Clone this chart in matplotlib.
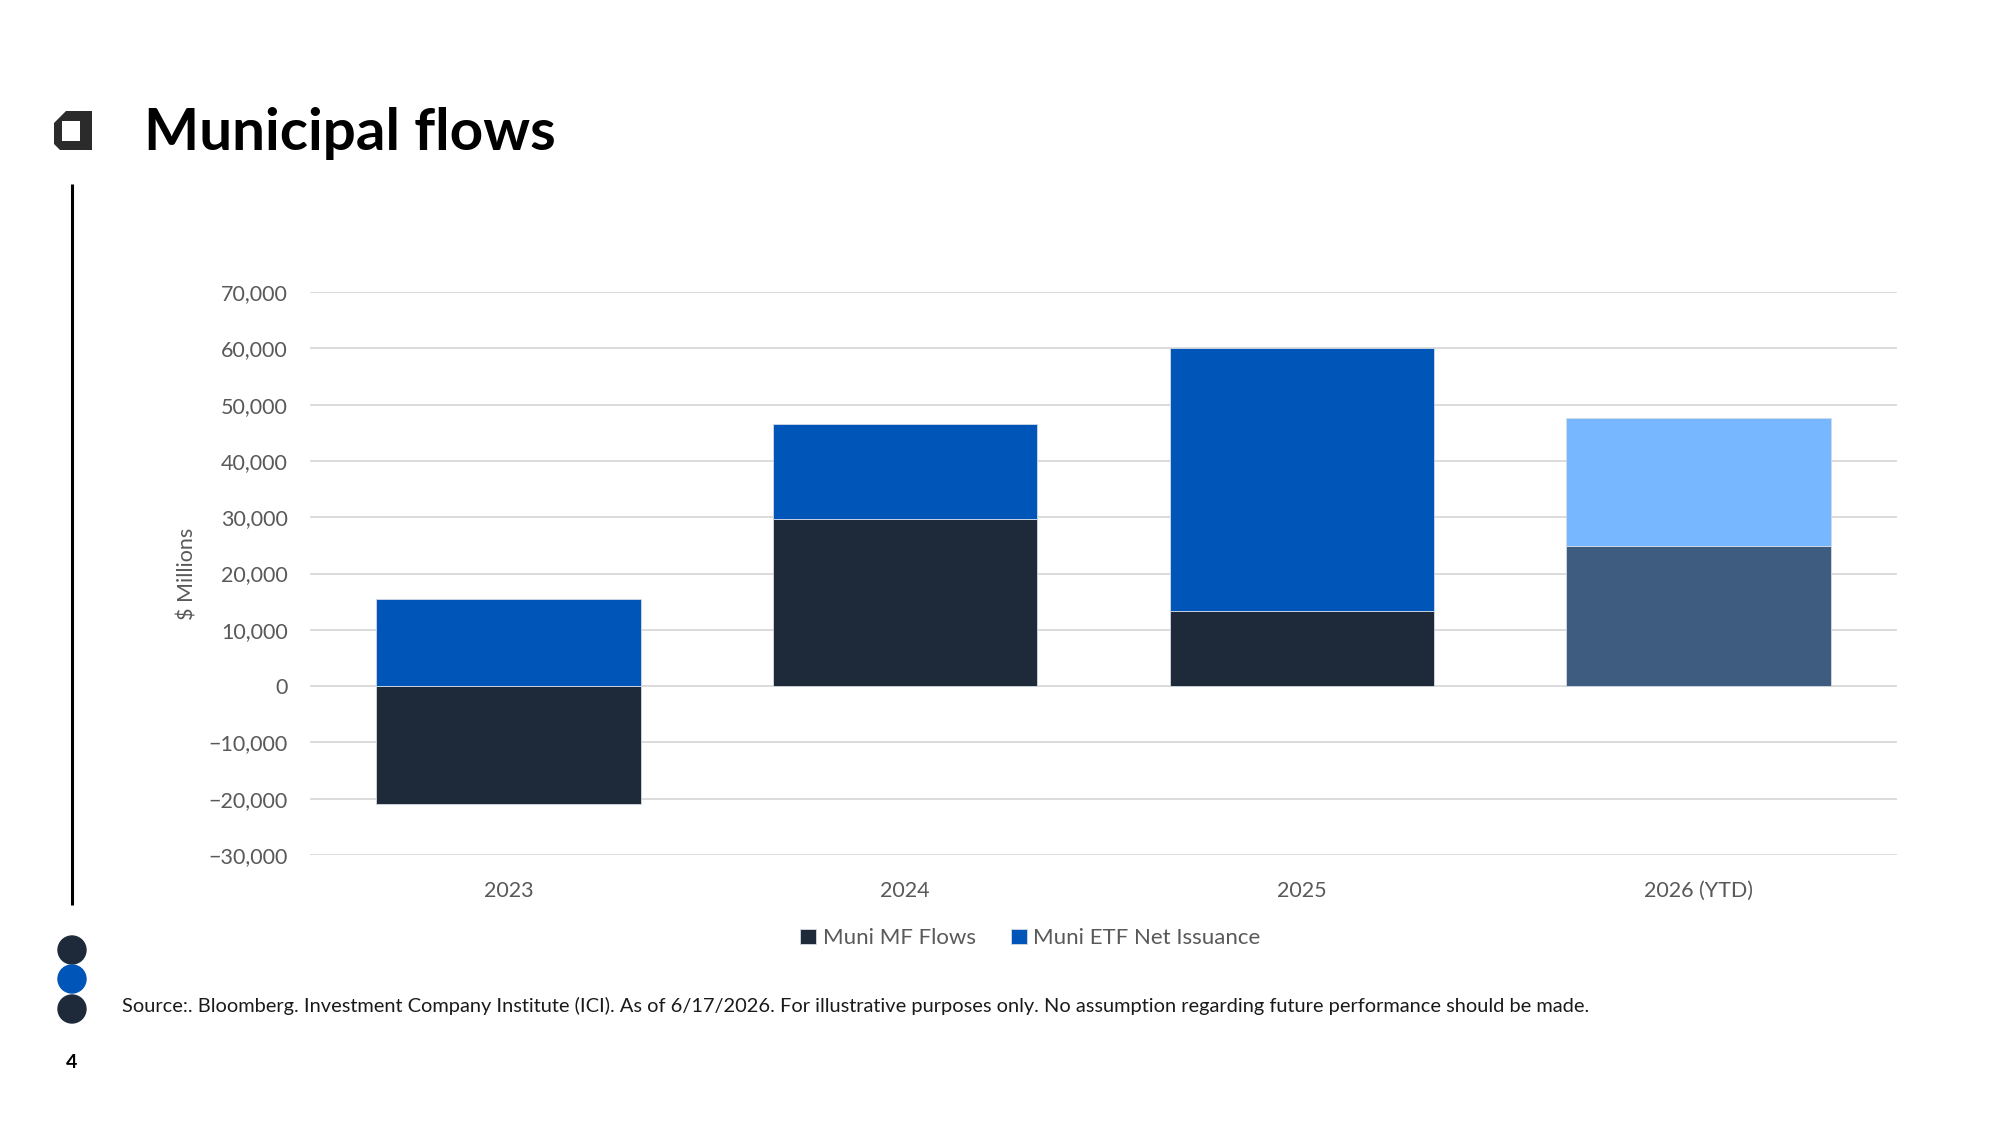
import matplotlib.pyplot as plt
import numpy as np
from matplotlib.path import Path
from matplotlib.patches import PathPatch, Circle

# Données (en $ millions)
annees = ["2023", "2024", "2025", "2026 (YTD)"]
flux_mf = [-20900, 29700, 13400, 24900]
emission_etf = [15400, 16800, 46700, 22700]

couleurs_mf = ["#1E2A3A", "#1E2A3A", "#1E2A3A", "#3D5C80"]
couleurs_etf = ["#0055B8", "#0055B8", "#0055B8", "#77B7FF"]

graduations_y = np.arange(-30000, 70001, 10000)

plt.rcParams["font.family"] = ["Lato", "DejaVu Sans"]
gris = "#595959"

fig = plt.figure(figsize=(20, 11.25), dpi=100)

# Axe de fond pour les décorations (coordonnées en pixels)
deco = fig.add_axes([0, 0, 1, 1])
deco.set_xlim(0, 2000)
deco.set_ylim(1125, 0)
deco.axis("off")

# Logo "a" (contour extérieur + trou intérieur en sens inverse)
sommets = [(54, 123), (66, 111), (92, 111), (92, 150), (60, 150), (54, 144), (54, 123),
           (62, 121), (62, 141), (80, 141), (80, 121), (62, 121)]
codes = ([Path.MOVETO] + [Path.LINETO] * 5 + [Path.CLOSEPOLY]
         + [Path.MOVETO] + [Path.LINETO] * 3 + [Path.CLOSEPOLY])
deco.add_patch(PathPatch(Path(sommets, codes), facecolor="#2b2b2b", edgecolor="none"))

deco.text(144, 134, "Municipal flows", fontsize=42, fontweight="bold",
          color="black", va="center", ha="left")

# Ligne verticale et points
deco.plot([72, 72], [184, 905], color="black", lw=2.2, solid_capstyle="butt")
for y, c in zip([950, 979, 1009], ["#1E2A3A", "#0055B8", "#1E2A3A"]):
    deco.add_patch(Circle((72, y), 14, color=c))

deco.text(122, 1006, "Source:. Bloomberg. Investment Company Institute (ICI). As of 6/17/2026. "
          "For illustrative purposes only. No assumption regarding future performance should be made.",
          fontsize=14.4, color="#1a1a1a", va="center", ha="left")
deco.text(72, 1062, "4", fontsize=14, fontweight="bold", color="black", va="center", ha="center")

# Graphique
ax = fig.add_axes([0.155, 0.24, 0.7935, 0.5004])
x = np.arange(len(annees))
largeur = 0.667

ax.bar(x, flux_mf, largeur, color=couleurs_mf, edgecolor="#d5dbe3", linewidth=0.6,
       label="Muni MF Flows", zorder=3)
bas_etf = [max(v, 0) for v in flux_mf]
ax.bar(x, emission_etf, largeur, bottom=bas_etf, color=couleurs_etf, edgecolor="#d5dbe3",
       linewidth=0.6, label="Muni ETF Net Issuance", zorder=3)

ax.set_xlim(-0.5, 3.5)
ax.set_ylim(-30000, 70000)
ax.set_yticks(graduations_y)
ax.set_yticklabels([f"{v:,.0f}".replace("-", "\u2212") for v in graduations_y])
ax.set_xticks(x)
ax.set_xticklabels(annees)
ax.grid(axis="y", color="#D9D9D9", lw=1.3, zorder=0)
for s in ax.spines.values():
    s.set_visible(False)
ax.tick_params(axis="both", length=0, labelsize=15.5, labelcolor=gris)
ax.tick_params(axis="y", pad=16)
ax.tick_params(axis="x", pad=18.5)
ax.set_ylabel("$ Millions", fontsize=15.5, color=gris, labelpad=8)

ax.legend(loc="upper center", bbox_to_anchor=(0.454, -0.095), ncol=2, frameon=False,
          fontsize=16, labelcolor=gris, handlelength=0.7, handleheight=0.7,
          handletextpad=0.3, columnspacing=1.6)

fig.savefig("out.png", dpi=100)
